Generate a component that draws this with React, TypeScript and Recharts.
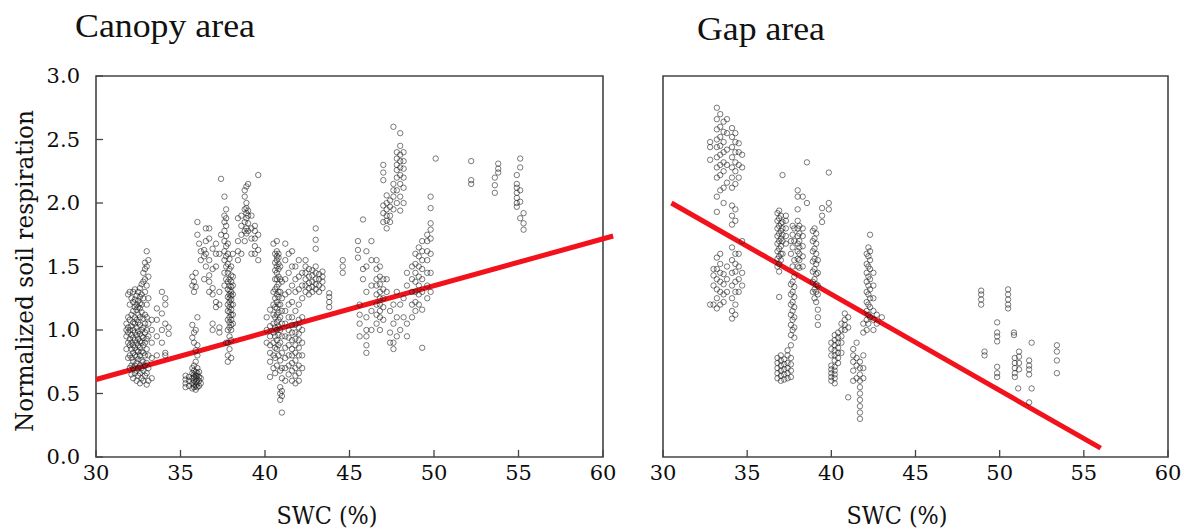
import React from 'react';
import { ScatterChart, Scatter, XAxis, YAxis, ReferenceArea, ReferenceLine } from 'recharts';

type Col = [number, number[]];

const xTicks = [30, 35, 40, 45, 50, 55, 60];
const yTicks = [0, 0.5, 1, 1.5, 2, 2.5, 3];
const panelTitles = ['Canopy area', 'Gap area'];
const xLabel = 'SWC (%)';
const yLabel = 'Normalized soil respiration';

// ---- Canopy area (SWC %, normalized respiration), grouped by SWC column ----
const canopy32: Col[] = [
  [31.8, [0.85, 0.95, 1.0, 1.05]],
  [31.9, [0.78, 0.9, 0.98, 1.02, 1.1, 1.28]],
  [32.0, [0.7, 0.8, 0.88, 0.93, 1.0, 1.08, 1.2, 1.3]],
  [32.1, [0.65, 0.72, 0.78, 0.85, 0.9, 0.96, 1.03, 1.12, 1.25]],
  [32.2, [0.62, 0.7, 0.75, 0.82, 0.88, 0.94, 1.0, 1.06, 1.15, 1.22, 1.3]],
  [32.3, [0.66, 0.72, 0.8, 0.86, 0.92, 0.98, 1.05, 1.1, 1.18, 1.24, 1.32]],
  [32.4, [0.6, 0.68, 0.74, 0.79, 0.84, 0.9, 0.96, 1.02, 1.08, 1.16, 1.2, 1.27]],
  [32.5, [0.64, 0.7, 0.77, 0.83, 0.88, 0.93, 0.99, 1.06, 1.12, 1.18, 1.23, 1.3]],
  [32.6, [0.58, 0.66, 0.72, 0.8, 0.86, 0.91, 0.97, 1.04, 1.1, 1.17, 1.21, 1.26, 1.33]],
  [32.7, [0.62, 0.7, 0.76, 0.83, 0.9, 0.95, 1.0, 1.14, 1.2, 1.28, 1.36]],
  [32.8, [0.6, 0.68, 0.75, 0.82, 0.88, 0.94, 1.02, 1.09, 1.25, 1.38, 1.45]],
  [32.9, [0.64, 0.72, 0.8, 0.9, 0.98, 1.05, 1.12, 1.3, 1.4, 1.48, 1.53]],
  [33.0, [0.57, 0.66, 0.74, 0.85, 0.93, 1.0, 1.1, 1.2, 1.35, 1.5, 1.62]],
  [33.1, [0.6, 0.7, 0.8, 0.95, 1.05, 1.25, 1.42, 1.55]],
  [33.3, [0.62, 0.78, 0.9, 1.0, 1.08]],
  [33.6, [0.8, 0.95, 1.08, 1.17]],
  [33.9, [0.9, 1.0, 1.13, 1.3]],
  [34.1, [0.8, 0.82, 1.05, 1.2, 1.25]],
  [34.3, [0.97, 1.02]],
];
const canopy36: Col[] = [
  [35.3, [0.55, 0.58, 0.61, 0.64]],
  [35.5, [0.56, 0.6, 0.63]],
  [35.7, [0.54, 0.58, 0.62, 0.66, 0.7, 0.94, 1.04, 1.35, 1.42]],
  [35.8, [0.55, 0.57, 0.6, 0.63, 0.65, 0.68, 0.72, 0.9, 0.98, 1.3, 1.38]],
  [35.9, [0.53, 0.56, 0.59, 0.62, 0.64, 0.67, 0.75, 0.84, 1.0, 1.34, 1.45]],
  [36.0, [0.55, 0.58, 0.61, 0.64, 0.66, 0.7, 0.8, 0.88, 1.1, 1.75, 1.85]],
  [36.1, [0.56, 0.6, 0.63, 0.67, 1.68]],
  [36.2, [0.58, 0.62, 1.55, 1.62]],
  [36.4, [1.4, 1.58, 1.63]],
  [36.5, [1.5, 1.6, 1.7, 1.8]],
  [36.7, [1.3, 1.38, 1.43, 1.55, 1.72, 1.8]],
  [36.9, [1.0, 1.05, 1.28, 1.33, 1.48, 1.64]],
  [37.1, [1.18, 1.22, 1.5, 1.6, 1.68]],
  [37.3, [0.98, 1.02, 1.2, 1.3, 1.6]],
  [37.4, [2.19, 1.75]],
];
const canopy38: Col[] = [
  [37.6, [1.35, 1.45, 1.55, 1.62, 1.7, 1.78, 1.85, 1.9, 2.05]],
  [37.7, [0.9, 1.4, 1.5, 1.58, 1.66, 1.74, 1.82, 1.88, 1.95]],
  [37.8, [0.75, 0.8, 0.9, 1.0, 1.08, 1.15, 1.2, 1.26, 1.32, 1.38, 1.45, 1.52, 1.6, 1.68]],
  [37.9, [0.85, 0.95, 1.02, 1.06, 1.1, 1.14, 1.18, 1.22, 1.25, 1.28, 1.31, 1.35, 1.4, 1.48, 1.56]],
  [38.0, [0.78, 0.92, 1.0, 1.04, 1.08, 1.12, 1.16, 1.2, 1.24, 1.27, 1.3, 1.34, 1.38, 1.43, 1.5]],
  [38.1, [1.05, 1.12, 1.2, 1.28, 1.35, 1.42, 1.6]],
  [38.4, [1.55, 1.62, 1.7, 1.88]],
  [38.6, [1.6, 1.75, 1.82, 1.9]],
  [38.8, [1.7, 1.78, 1.85, 1.95, 2.05, 2.1]],
  [38.9, [1.76, 1.8, 1.88, 1.92, 1.96, 2.0, 2.13]],
  [39.0, [1.78, 1.84, 1.9, 1.94, 2.15]],
  [39.2, [1.6, 1.72, 1.8, 1.9]],
  [39.4, [1.6, 1.66, 1.72, 1.78, 1.82]],
  [39.6, [1.55, 1.63, 1.75, 2.22]],
];
const canopy41: Col[] = [
  [40.1, [0.9, 1.0, 1.1]],
  [40.3, [0.63, 0.75, 0.82, 0.88, 0.95, 1.03, 1.16]],
  [40.5, [0.7, 0.8, 0.9, 0.98, 1.05, 1.12, 1.2, 1.3, 1.68]],
  [40.6, [0.66, 0.78, 0.86, 0.95, 1.02, 1.1, 1.18, 1.25, 1.32, 1.4, 1.47, 1.53, 1.6]],
  [40.7, [0.72, 0.85, 0.92, 1.0, 1.06, 1.12, 1.17, 1.22, 1.28, 1.34, 1.4, 1.45, 1.5, 1.55, 1.58, 1.62, 1.7]],
  [40.8, [0.8, 0.88, 0.96, 1.03, 1.08, 1.14, 1.2, 1.26, 1.3, 1.36, 1.42, 1.48, 1.52, 1.57, 1.6]],
  [40.9, [0.45, 0.5, 0.55, 0.68, 0.76, 0.9, 1.0, 1.1, 1.2, 1.3, 1.4, 1.5]],
  [41.0, [0.35, 0.48, 0.52, 0.62, 0.7, 0.82, 0.95, 1.05, 1.15, 1.25, 1.38]],
  [41.2, [0.6, 0.7, 0.78, 0.86, 0.95, 1.05, 1.15, 1.28, 1.4, 1.55, 1.68]],
  [41.4, [0.65, 0.72, 0.8, 0.88, 0.94, 1.0, 1.1, 1.2, 1.3, 1.45, 1.6]],
  [41.6, [0.6, 0.68, 0.74, 0.8, 0.85, 0.92, 0.98, 1.04, 1.1, 1.22, 1.35, 1.5, 1.62]],
  [41.8, [0.58, 0.64, 0.7, 0.76, 0.82, 0.88, 0.93, 0.98, 1.04, 1.15, 1.3, 1.4, 1.5]],
  [42.0, [0.6, 0.66, 0.72, 0.8, 0.86, 0.92, 0.97, 1.02, 1.08, 1.2, 1.32, 1.42, 1.55]],
  [42.2, [0.7, 0.8, 0.9, 1.0, 1.1, 1.25, 1.35, 1.45]],
  [42.4, [1.3, 1.35, 1.4, 1.45, 1.5, 1.55]],
  [42.6, [1.28, 1.33, 1.37, 1.42, 1.48]],
  [42.8, [1.3, 1.34, 1.38, 1.43, 1.47]],
  [43.0, [1.32, 1.36, 1.4, 1.45, 1.5, 1.64, 1.71, 1.8]],
  [43.2, [1.3, 1.35, 1.4, 1.44]],
  [43.4, [1.33, 1.38, 1.42, 1.46]],
  [43.8, [1.18, 1.22, 1.26, 1.29]],
];
const canopy47: Col[] = [
  [44.6, [1.45, 1.5, 1.55]],
  [45.5, [1.57, 1.63, 1.7]],
  [45.6, [0.95, 1.05, 1.12, 1.2]],
  [45.8, [1.87, 1.4, 1.48]],
  [46.0, [0.82, 0.88, 0.95, 1.0, 1.1, 1.3, 1.5, 1.62]],
  [46.3, [1.0, 1.15, 1.35, 1.55, 1.7]],
  [46.6, [1.05, 1.12, 1.2, 1.28, 1.35, 1.4, 1.48, 1.55]],
  [46.8, [1.0, 1.1, 1.15, 1.2, 1.25, 1.3, 1.36, 1.42, 1.5]],
  [47.0, [1.08, 1.18, 1.25, 1.32, 1.4, 1.85, 1.92, 1.98, 2.18, 2.24, 2.3]],
  [47.2, [1.3, 1.4, 1.8, 1.86, 1.9, 1.95, 2.0, 2.06]],
  [47.4, [0.9, 0.98, 1.15, 1.85, 1.9, 1.97, 2.02]],
  [47.6, [0.85, 0.9, 1.05, 1.2, 1.95, 2.05, 2.1, 2.15, 2.6]],
  [47.8, [0.95, 1.1, 1.3, 2.0, 2.1, 2.2, 2.26, 2.3, 2.35, 2.4]],
  [48.0, [1.0, 1.2, 1.94, 2.05, 2.15, 2.22, 2.28, 2.33, 2.38, 2.45, 2.55]],
  [48.2, [1.1, 1.25, 2.0, 2.12, 2.2, 2.27, 2.33, 2.4]],
  [48.4, [0.95, 1.05, 1.35, 1.45]],
  [48.7, [1.1, 1.2, 1.3, 1.4, 1.5]],
  [48.9, [1.15, 1.22, 1.3, 1.38, 1.45, 1.52, 1.6]],
  [49.1, [1.2, 1.28, 1.35, 1.42, 1.5, 1.58, 1.65]],
  [49.3, [0.86, 1.16, 1.3, 1.4, 1.48, 1.55, 1.62, 1.7]],
  [49.6, [1.25, 1.35, 1.45, 1.55, 1.62, 1.7, 1.75]],
  [49.8, [1.3, 1.45, 1.6, 1.72, 1.79, 1.84, 1.96, 2.05]],
  [50.1, [2.35]],
  [52.2, [2.15, 2.18, 2.33]],
  [53.6, [2.08, 2.14, 2.2]],
  [53.8, [2.24, 2.27, 2.31]],
  [54.9, [1.97, 2.0, 2.04, 2.08, 2.12, 2.15, 2.22]],
  [55.1, [1.88, 2.01, 2.1, 2.28, 2.35]],
  [55.3, [1.79, 1.84, 1.92]],
];

// ---- Gap area ----
const gap34: Col[] = [
  [32.8, [2.34, 2.44, 2.48, 1.2]],
  [33.0, [1.43, 1.2, 1.35, 1.48]],
  [33.2, [1.17, 1.25, 1.32, 1.4, 1.48, 1.57, 1.93, 2.05, 2.2, 2.28, 2.36, 2.44, 2.5, 2.58, 2.66, 2.75]],
  [33.4, [1.2, 1.3, 1.38, 1.45, 1.52, 1.6, 2.1, 2.22, 2.3, 2.38, 2.45, 2.52, 2.6, 2.7]],
  [33.6, [1.22, 1.28, 1.36, 1.44, 2.0, 2.12, 2.25, 2.32, 2.4, 2.48, 2.56, 2.64]],
  [33.8, [1.3, 1.4, 1.5, 2.16, 2.3, 2.42, 2.55, 2.66]],
  [34.1, [1.09, 1.15, 1.25, 1.35, 1.45, 1.55, 1.65, 1.83, 1.9, 1.98, 2.12, 2.2, 2.28, 2.36, 2.44, 2.52, 2.59]],
  [34.3, [1.12, 1.2, 1.3, 1.38, 1.46, 1.52, 1.6, 1.86, 1.95, 2.15, 2.25, 2.32, 2.4, 2.48, 2.55]],
  [34.5, [1.3, 1.4, 1.5, 1.6, 2.2, 2.3, 2.4, 2.47]],
  [34.7, [1.35, 1.45, 1.7, 2.28, 2.38]],
];
const gap37: Col[] = [
  [36.8, [0.62, 0.66, 0.7, 0.74, 0.78, 1.5, 1.56, 1.62, 1.68, 1.74, 1.8, 1.86, 1.92]],
  [36.9, [1.26, 1.46, 1.52, 1.58, 1.64, 1.7, 1.76, 1.82, 1.88, 1.94]],
  [37.0, [0.6, 0.64, 0.68, 0.72, 0.76, 0.8, 1.55, 1.6, 1.66, 1.72, 1.78, 1.84, 1.9]],
  [37.1, [1.6, 1.7, 1.75, 1.8, 1.85, 2.22]],
  [37.2, [0.61, 0.65, 0.69, 0.73, 0.77]],
  [37.3, [1.68, 1.74, 1.8, 1.86, 1.9]],
  [37.4, [0.62, 0.66, 0.7, 0.74, 0.8, 0.84]],
  [37.6, [0.63, 0.68, 0.73, 0.78, 0.88, 0.96, 1.04, 1.12, 1.2, 1.28, 1.36, 1.6, 1.7]],
  [37.7, [1.0, 1.08, 1.15, 1.22, 1.3, 1.38, 1.5, 1.65, 1.75, 1.82]],
  [37.8, [0.94, 1.02, 1.1, 1.18, 1.26, 1.34, 1.42, 1.55, 1.7, 1.8]],
  [38.0, [1.5, 1.56, 1.62, 1.68, 1.74, 1.8, 1.86, 1.95, 2.05, 2.1]],
  [38.1, [1.49, 1.55, 1.6, 1.65, 1.7, 1.76, 1.82]],
  [38.3, [1.5, 1.58, 1.66, 1.74, 1.8, 2.05]],
  [38.55, [2.32, 2.0]],
  [38.9, [1.3, 1.38, 1.46, 1.54, 1.62, 1.7, 1.78]],
  [39.0, [1.25, 1.32, 1.4, 1.48, 1.56, 1.64, 1.72, 1.8]],
  [39.1, [1.22, 1.3, 1.36, 1.44, 1.52, 1.6, 1.68, 1.76]],
  [39.2, [1.04, 1.1, 1.16, 1.28, 1.35, 1.45, 1.55]],
  [39.45, [1.85, 1.9, 1.96]],
  [39.85, [2.24, 2.0, 1.95]],
];
const gap41: Col[] = [
  [40.0, [0.6, 0.63, 0.66, 0.69, 0.72, 0.8, 0.85, 0.9]],
  [40.2, [0.58, 0.62, 0.65, 0.68, 0.71, 0.76, 0.8, 0.84, 0.88, 0.92, 0.96]],
  [40.4, [0.74, 0.78, 0.82, 0.86, 0.9, 0.94, 0.98]],
  [40.6, [0.82, 0.9, 0.95, 1.0, 1.05]],
  [40.8, [1.0, 1.04, 1.08, 1.13]],
  [41.0, [0.47, 1.02, 1.1]],
  [41.3, [0.6, 0.68, 0.75, 0.8, 0.85]],
  [41.5, [0.62, 0.72, 0.78, 0.9]],
  [41.7, [0.3, 0.35, 0.4, 0.45, 0.5, 0.55, 0.6, 0.65, 0.7, 0.75]],
  [41.9, [0.62, 0.7, 0.8, 0.98, 1.05]],
  [42.1, [1.0, 1.08, 1.15, 1.22, 1.3, 1.38, 1.45, 1.52, 1.6]],
  [42.2, [1.05, 1.12, 1.2, 1.28, 1.35, 1.42, 1.5, 1.58, 1.65]],
  [42.3, [1.1, 1.18, 1.25, 1.32, 1.4, 1.48, 1.55, 1.62, 1.75]],
  [42.5, [1.0, 1.08, 1.15, 1.25, 1.35, 1.45]],
  [42.7, [1.05, 1.12]],
  [43.0, [1.1]],
];
const gap50: Col[] = [
  [48.9, [1.31, 1.28, 1.24, 1.2]],
  [49.1, [0.83, 0.8]],
  [49.85, [1.06, 0.98, 0.95, 0.91, 0.71, 0.66, 0.63]],
  [50.5, [1.32, 1.28, 1.24, 1.2, 1.17]],
  [50.85, [0.98, 0.96]],
  [50.9, [0.78, 0.74, 0.7, 0.66, 0.63]],
  [51.1, [0.54]],
  [51.15, [0.83, 0.79, 0.74, 0.69]],
  [51.75, [0.76, 0.72, 0.69, 0.65, 0.43]],
  [51.9, [0.9, 0.54]],
  [53.4, [0.88, 0.83, 0.76, 0.66]],
];

// regression line end points (SWC, respiration)
const canopyFit = [{ x: 30, y: 0.61 }, { x: 60.6, y: 1.74 }];
const gapFit = [{ x: 30.5, y: 2.0 }, { x: 56, y: 0.07 }];

const toPoints = (groups: Col[][]) =>
  groups.flat().flatMap(([x, ys]) => ys.map((y) => ({ x, y })));

const canopyData = toPoints([canopy32, canopy36, canopy38, canopy41, canopy47]);
const gapData = toPoints([gap34, gap37, gap41, gap50]);

const Dot = (p: any) => (
  <circle cx={p.cx} cy={p.cy} r={2.7} fill="none" stroke="#1a1a1a" strokeOpacity={0.68} strokeWidth={0.85} />
);

const tickFont = { fill: '#0c0c0c', fontSize: 21, fontFamily: 'DejaVu Serif' };

function Panel(props: { data: { x: number; y: number }[]; fit: { x: number; y: number }[]; width: number; yWidth: number; right: number; labels: boolean }) {
  const { data, fit, width, yWidth, right, labels } = props;
  return (
    <ScatterChart width={width} height={531} margin={{ top: 76, right, bottom: 44, left: 0 }}>
      <XAxis
        type="number"
        dataKey="x"
        domain={[30, 60]}
        ticks={xTicks}
        interval={0}
        height={30}
        axisLine={false}
        tickSize={-7}
        tickMargin={15}
        tickLine={{ stroke: '#444', strokeWidth: 1.3 }}
        tick={tickFont}
      />
      <YAxis
        type="number"
        dataKey="y"
        domain={[0, 3]}
        ticks={yTicks}
        interval={0}
        width={yWidth}
        axisLine={false}
        tickSize={-7}
        tickMargin={23}
        tickLine={{ stroke: '#444', strokeWidth: 1.3 }}
        tick={labels ? tickFont : false}
        tickFormatter={(v: number) => v.toFixed(1)}
      />
      <ReferenceArea x1={30} x2={60} y1={0} y2={3} fill="none" stroke="#444" strokeWidth={1.6} />
      <Scatter data={data} shape={Dot} isAnimationActive={false} />
      <ReferenceLine segment={fit} stroke="#f2121c" strokeWidth={5} ifOverflow="visible" />
    </ScatterChart>
  );
}

export default function App() {
  return (
    <div style={{ position: 'absolute', left: 0, top: 0, width: 1184, height: 531, background: '#fff', overflow: 'hidden' }}>
      <div style={{ position: 'absolute', left: 0, top: 0 }}>
        <Panel data={canopyData} fit={canopyFit} width={620} yWidth={96} right={17} labels={true} />
      </div>
      <div style={{ position: 'absolute', left: 620, top: 0 }}>
        <Panel data={gapData} fit={gapFit} width={564} yWidth={43} right={16} labels={false} />
      </div>
      <svg width={1184} height={531} style={{ position: 'absolute', left: 0, top: 0, pointerEvents: 'none' }}>
        <text x={75} y={37} fontFamily="Liberation Serif" fontSize={33} fill="#111" textLength={180} lengthAdjust="spacingAndGlyphs">{panelTitles[0]}</text>
        <text x={697} y={40} fontFamily="Liberation Serif" fontSize={33} fill="#111" textLength={128} lengthAdjust="spacingAndGlyphs">{panelTitles[1]}</text>
        <text x={327} y={524} textAnchor="middle" fontFamily="DejaVu Serif" fontSize={24} fill="#111" textLength={101} lengthAdjust="spacingAndGlyphs">{xLabel}</text>
        <text x={897} y={524} textAnchor="middle" fontFamily="DejaVu Serif" fontSize={24} fill="#111" textLength={101} lengthAdjust="spacingAndGlyphs">{xLabel}</text>
        <text x={0} y={0} transform="translate(33,271) rotate(-90)" textAnchor="middle" fontFamily="DejaVu Serif" fontSize={24} fill="#111" textLength={322} lengthAdjust="spacingAndGlyphs">{yLabel}</text>
      </svg>
    </div>
  );
}
